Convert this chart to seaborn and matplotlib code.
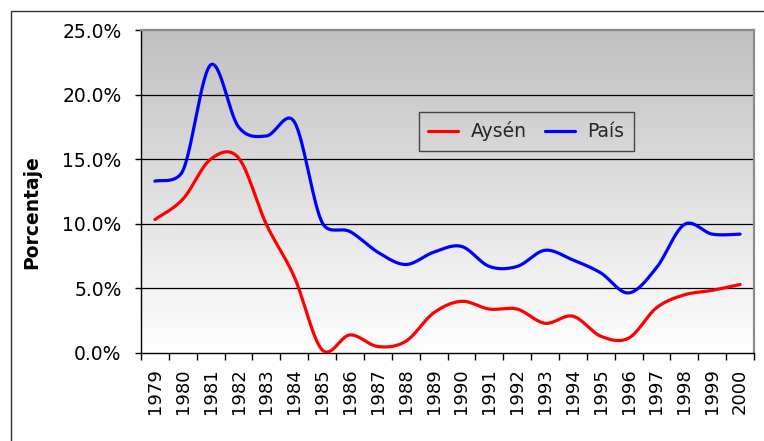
import numpy as np
import pandas as pd
import matplotlib
matplotlib.use("Agg")
import matplotlib.pyplot as plt
import seaborn as sns
from matplotlib.ticker import FuncFormatter, FixedLocator
from matplotlib.patches import Rectangle

# ---- data (percent) ----
years = [1979, 1980, 1981, 1982, 1983, 1984, 1985, 1986, 1987, 1988, 1989,
         1990, 1991, 1992, 1993, 1994, 1995, 1996, 1997, 1998, 1999, 2000]
aysen = [10.33, 11.9, 15.0, 15.1, 9.95, 5.9, 0.25, 1.4, 0.5, 0.9, 3.1,
         4.0, 3.4, 3.4, 2.3, 2.85, 1.3, 1.15, 3.5, 4.5, 4.85, 5.3]
pais = [13.3, 14.1, 22.3, 17.5, 16.8, 17.9, 10.1, 9.4, 7.8, 6.85, 7.8,
        8.25, 6.7, 6.7, 7.95, 7.2, 6.2, 4.65, 6.6, 9.95, 9.2, 9.2]
series_names = ["Aysén", "País"]
yticks = [0, 5, 10, 15, 20, 25]

# pixel scale of the plot area (used only for the Excel-like smoothing)
PX_PER_YEAR = 27.9
PX_PER_PCT = 12.9


def smooth(vals, n=30):
    """Excel-like smoothed line: cubic Bezier with tangents (P[i+1]-P[i-1])/6,
    clamped to half of the adjacent segment length (in screen space)."""
    y = np.asarray(vals, float) * PX_PER_PCT
    x = np.arange(len(y)) * PX_PER_YEAR
    P = np.column_stack([x, y])
    m = len(P)
    D = np.zeros_like(P)
    for i in range(m):
        a = P[max(i - 1, 0)]
        b = P[min(i + 1, m - 1)]
        D[i] = (b - a) / 6.0
    xs, ys = [], []
    for i in range(m - 1):
        p1, p2 = P[i], P[i + 1]
        seg = np.linalg.norm(p2 - p1)
        o1 = D[i].copy()
        o2 = D[i + 1].copy()
        for o in (o1, o2):
            L = np.linalg.norm(o)
            if L > 0.5 * seg:
                o *= 0.5 * seg / L
        c1 = p1 + o1
        c2 = p2 - o2
        t = np.linspace(0, 1, n, endpoint=(i == m - 2))[:, None]
        B = ((1 - t) ** 3) * p1 + 3 * ((1 - t) ** 2) * t * c1 + 3 * (1 - t) * t**2 * c2 + t**3 * p2
        xs.append(B[:, 0] / PX_PER_YEAR)
        ys.append(B[:, 1] / PX_PER_PCT)
    return np.concatenate(xs), np.concatenate(ys)


frames = []
for name, vals in zip(series_names, [aysen, pais]):
    sx, sy = smooth(vals)
    frames.append(pd.DataFrame({"x": sx, "v": sy / 100.0, "serie": name}))
df = pd.concat(frames, ignore_index=True)

sns.set_theme(style="white")
plt.rcParams["font.family"] = ["DejaVu Sans"]

fig = plt.figure(figsize=(7.64, 4.41), dpi=100)
ax = fig.add_axes([141 / 764, 1 - 353 / 441, (754 - 141) / 764, (353 - 30) / 441])

# gradient background
grad = np.linspace(0, 1, 256).reshape(-1, 1)
cmap = matplotlib.colors.LinearSegmentedColormap.from_list("g", ["#ffffff", "#c0c0c0"])
ax.imshow(grad, extent=[0, 1, 0, 1], transform=ax.transAxes, cmap=cmap,
          aspect="auto", origin="lower", zorder=0)

sns.lineplot(data=df, x="x", y="v", hue="serie", palette={"Aysén": "#ff0000", "País": "#0000ff"},
             estimator=None, sort=False, linewidth=2.3, ax=ax, zorder=3)

ax.set_xlim(-0.5, len(years) - 0.5)
ax.set_ylim(0, 0.25)

# y axis
ax.set_yticks([v / 100 for v in yticks])
ax.yaxis.set_major_formatter(FuncFormatter(lambda v, _: f"{v * 100:.1f}%"))
for v in yticks[1:-1]:
    ax.axhline(v / 100, color="black", linewidth=0.9, zorder=2)
ax.tick_params(axis="y", which="major", direction="out", length=4, width=1,
               color="black", pad=10, labelsize=13.5, labelcolor="black", left=True)

# x axis
ax.xaxis.set_major_locator(FixedLocator(list(range(len(years)))))
ax.set_xticklabels([str(y) for y in years], rotation=90)
ax.xaxis.set_minor_locator(FixedLocator([i - 0.5 for i in range(len(years) + 1)]))
ax.tick_params(axis="x", which="major", length=0, pad=11, labelsize=13, labelcolor="black")
ax.tick_params(axis="x", which="minor", direction="out", length=5, width=1, color="black", bottom=True)

ax.set_xlabel("")
ax.set_ylabel("Porcentaje", fontsize=13.5, fontweight="bold", color="black")
ax.yaxis.set_label_coords(-0.162, 0.435)

for side in ["left", "bottom"]:
    ax.spines[side].set_color("black")
    ax.spines[side].set_linewidth(1.0)
for side in ["top", "right"]:
    ax.spines[side].set_color("#8c8c8c")
    ax.spines[side].set_linewidth(1.6)

leg = ax.legend(loc="upper left", bbox_to_anchor=((419 - 141) / 613, (353 - 112) / 323),
                ncol=2, frameon=True, fancybox=False, fontsize=13.5, handlelength=1.6,
                columnspacing=1.0, handletextpad=0.64, borderpad=0.5, borderaxespad=0)
leg.get_frame().set_facecolor("none")
leg.get_frame().set_edgecolor("#222222")
leg.get_frame().set_linewidth(1.0)
for line in leg.get_lines():
    line.set_linewidth(2.3)

# outer chart border (cropped on right and bottom)
fig.patches.append(Rectangle((11 / 764, -0.05), 1.2, 1 - 11 / 441 + 0.05,
                             transform=fig.transFigure, fill=False,
                             edgecolor="#333333", linewidth=1.0))

fig.savefig("out.png", dpi=100)
